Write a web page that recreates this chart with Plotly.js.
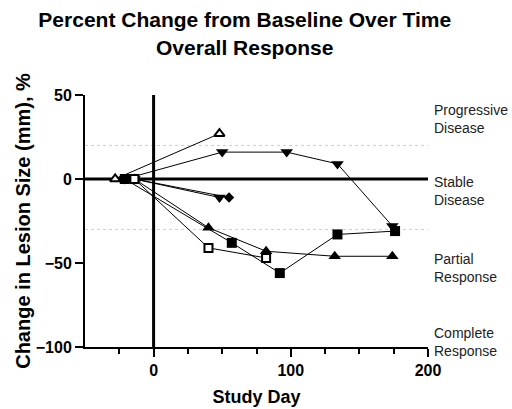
<!DOCTYPE html>
<html>
<head>
<meta charset="utf-8">
<script src="https://cdn.plot.ly/plotly-3.0.1.min.js"></script>
<style>html,body{margin:0;padding:0;background:#fff;} #chart{width:512px;height:409px;}</style>
</head>
<body>
<div id="chart"></div>
<script>
// ---- data ----
var openTriX = [-28, 48];
var openTriY = [0, 27];
var downTriLongX = [-21, 50, 97, 134, 174];
var downTriLongY = [0, 16, 16, 9, -28];
var downTriShortX = [-14, 48];
var downTriShortY = [0, -11];
var diamondX = [-14, 55];
var diamondY = [0, -11];
var filledTriX = [-14, 40, 82, 132, 174];
var filledTriY = [0, -29, -43, -46, -46];
var filledSqX = [-21, 57, 92, 134, 176];
var filledSqY = [0, -38, -56, -33, -31];
var openSqX = [-14, 40, 82];
var openSqY = [0, -41, -47];

var xTickVals = [0, 100, 200];
var yTickVals = [-100, -50, 0, 50];
var thresholds = [20, -30];
var responseLabels = ["Progressive<br>Disease", "Stable<br>Disease", "Partial<br>Response", "Complete<br>Response"];
var responseLabelY = [36, -7, -53, -97];

var FONT = "Liberation Sans, Arial, Helvetica, sans-serif";

function series(x, y, symbol, size, open) {
  return {
    x: x, y: y, type: "scatter", mode: "lines+markers",
    line: {color: "#000", width: 1},
    marker: {
      symbol: symbol, size: size,
      color: open ? "#fff" : "#000",
      line: {color: "#000", width: open ? 2 : 0}
    },
    cliponaxis: false,
    showlegend: false, hoverinfo: "x+y"
  };
}

var traces = [
  series(openTriX, openTriY, "triangle-up", 9, true),
  series(downTriLongX, downTriLongY, "triangle-down", 11, false),
  series(downTriShortX, downTriShortY, "triangle-down", 11, false),
  series(diamondX, diamondY, "diamond", 8, false),
  series(filledTriX, filledTriY, "triangle-up", 11, false),
  series(filledSqX, filledSqY, "square", 10, false),
  series(openSqX, openSqY, "square", 8, true)
];

var shapes = [];
thresholds.forEach(function (t) {
  shapes.push({type: "line", xref: "paper", x0: 0, x1: 1, yref: "y", y0: t, y1: t,
    line: {color: "#cccccc", width: 1, dash: "dot"}, layer: "below"});
});
shapes.push({type: "line", xref: "paper", x0: 0, x1: 1, yref: "y", y0: 0, y1: 0,
  line: {color: "#000", width: 3}, layer: "below"});
shapes.push({type: "line", xref: "x", x0: 0, x1: 0, yref: "paper", y0: 0, y1: 1,
  line: {color: "#000", width: 3}, layer: "below"});

var annotations = responseLabels.map(function (txt, i) {
  return {
    text: txt, xref: "paper", x: 1.012, xanchor: "left",
    yref: "y", y: responseLabelY[i], yanchor: "middle",
    showarrow: false, align: "left",
    font: {family: FONT, size: 14, color: "#222"}
  };
});

var layout = {
  width: 512, height: 409,
  margin: {l: 85, r: 84, t: 95, b: 62},
  paper_bgcolor: "#fff", plot_bgcolor: "#fff",
  title: {
    text: "Percent Change from Baseline Over Time<br>Overall Response",
    font: {family: FONT, size: 21, color: "#000", weight: "bold"},
    x: 0.478, xanchor: "center", xref: "container",
    y: 0.933, yanchor: "middle", yref: "container"
  },
  xaxis: {
    range: [-50, 200], showgrid: false, zeroline: false,
    showline: true, linecolor: "#000", linewidth: 2,
    ticks: "outside", ticklen: 8, tickwidth: 2, tickcolor: "#000",
    tickvals: xTickVals,
    minor: {tickvals: [-25, 25, 50, 75, 125, 150, 175], ticks: "outside", ticklen: 5, tickwidth: 2, tickcolor: "#000"},
    tickfont: {family: FONT, size: 16, color: "#000", weight: "bold"},
    title: {text: "Study Day", font: {family: FONT, size: 18, color: "#000", weight: "bold"}, standoff: 12}
  },
  yaxis: {
    range: [-100, 50], showgrid: false, zeroline: false,
    showline: true, linecolor: "#000", linewidth: 2,
    ticks: "outside", ticklen: 8, tickwidth: 2, tickcolor: "#000",
    tickvals: yTickVals,
    tickfont: {family: FONT, size: 16, color: "#000", weight: "bold"},
    title: {text: "Change in Lesion Size (mm), %", font: {family: FONT, size: 20, color: "#000", weight: "bold"}, standoff: 0}
  },
  shapes: shapes,
  annotations: annotations
};

Plotly.newPlot("chart", traces, layout, {displayModeBar: false, staticPlot: true});
</script>
</body>
</html>
